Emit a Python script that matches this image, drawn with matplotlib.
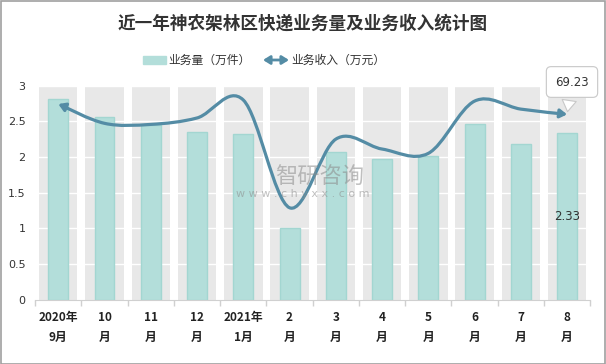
import numpy as np
import matplotlib
matplotlib.use('Agg')
import matplotlib.pyplot as plt
from matplotlib.path import Path
from matplotlib.patches import FancyArrowPatch, Rectangle

plt.rcParams['font.family'] = ['Noto Sans CJK SC', 'DejaVu Sans']

# data
months = ['2020年\n9月', '10\n月', '11\n月', '12\n月', '2021年\n1月', '2\n月',
          '3\n月', '4\n月', '5\n月', '6\n月', '7\n月', '8\n月']
volume = [2.81, 2.56, 2.45, 2.35, 2.32, 1.00, 2.07, 1.97, 2.02, 2.46, 2.18, 2.33]   # 万件
income = [73.1, 65.9, 65.5, 67.9, 74.6, 34.4, 60.0, 56.3, 54.7, 74.2, 71.2, 69.23]  # 万元

bar_col = '#b3deda'
bar_edge = '#a3d6d1'
line_col = '#548ca5'

fig = plt.figure(figsize=(6.06, 3.64), dpi=100)
ax = fig.add_axes([0.058, 0.176, 0.916, 0.589])
ax2 = ax.twinx()

x = np.arange(len(months))
# gray column bands and white grid
ax.bar(x, [3] * len(x), width=0.83, color='#e8e8e8', zorder=0)
for g in np.arange(0.5, 3.01, 0.5):
    ax.axhline(g, color='white', lw=1, zorder=1)
ax.bar(x, volume, width=0.43, color=bar_col, edgecolor=bar_edge, lw=1, zorder=2)
ax.text(x[-1], 1.17, '2.33', ha='center', va='center', fontsize=8.5, color='#333333',
        family=['DejaVu Sans'], zorder=5)

ax.set_xlim(-0.5, 11.5)
ax.set_ylim(0, 3)
ax.set_yticks(np.arange(0, 3.01, 0.5))
ax.set_yticklabels(['0', '0.5', '1', '1.5', '2', '2.5', '3'], fontsize=8, color='#333333',
                   family=['DejaVu Sans'])
ax.tick_params(axis='y', length=0, pad=7)
ax.set_xticks(x)
ax.set_xticklabels(months, fontsize=8.5, fontweight='bold', color='#222222', linespacing=1.7)
ax.tick_params(axis='x', length=0, pad=8)
ax.set_xticks(np.arange(-0.5, 11.6, 1), minor=True)
ax.tick_params(axis='x', which='minor', length=4, color='#d0d0d0', width=1)
for s in ['left', 'right', 'top']:
    ax.spines[s].set_visible(False)
ax.spines['bottom'].set_color('#d0d0d0')

# income line on hidden secondary axis, drawn as a smooth bezier through the points
ax2.set_ylim(0, 80)
ax2.axis('off')
pts = np.column_stack([x, income])
ext = np.vstack([pts[0], pts, pts[-1]])
verts = [tuple(pts[0])]
codes = [Path.MOVETO]
for i in range(len(pts) - 1):
    p0, p1, p2, p3 = ext[i], ext[i + 1], ext[i + 2], ext[i + 3]
    c1 = p1 + (p2 - p0) / 6.0
    c2 = p2 - (p3 - p1) / 6.0
    verts += [tuple(c1), tuple(c2), tuple(p2)]
    codes += [Path.CURVE4] * 3
curve = FancyArrowPatch(path=Path(verts, codes), arrowstyle='<|-|>,head_length=4,head_width=2.5',
                        color=line_col, lw=2.3, transform=ax2.transData, zorder=4)
ax2.add_patch(curve)

ax2.annotate('69.23', xy=(x[-1], income[-1]), xytext=(572, 282), textcoords='figure pixels',
             ha='center', va='center', fontsize=8.5, color='#333333', family=['DejaVu Sans'],
             bbox=dict(boxstyle='round,pad=0.75,rounding_size=0.4', fc='white', ec='#c8c8c8', lw=0.8),
             arrowprops=dict(arrowstyle='wedge,tail_width=1.2', fc='white', ec='#c8c8c8', lw=0.8),
             zorder=6)

# title
fig.text(0.5, 0.934, '近一年神农架林区快递业务量及业务收入统计图', ha='center', va='center',
         fontsize=12.7, fontweight='bold', color='#333333')

# legend
fig.patches.append(Rectangle((143 / 606, 1 - 64 / 364), 23 / 606, 8 / 364,
                             transform=fig.transFigure, fc=bar_col, ec=bar_col))
fig.text(168 / 606, 1 - 60 / 364, '业务量（万件）', ha='left', va='center', fontsize=8.5, color='#333333')
fig.patches.append(FancyArrowPatch((263 / 606, 1 - 60 / 364), (289 / 606, 1 - 60 / 364),
                                   transform=fig.transFigure, arrowstyle='<|-|>,head_length=4,head_width=2.5',
                                   color=line_col, lw=2, shrinkA=0, shrinkB=0))
fig.text(291 / 606, 1 - 60 / 364, '业务收入（万元）', ha='left', va='center', fontsize=8.5, color='#333333')

# watermark
fig.text(320 / 606, 1 - 177 / 364, '智研咨询', ha='center', va='center', fontsize=16,
         color='#8c8c8c', alpha=0.55, zorder=10)
fig.text(303 / 606, 1 - 194 / 364, 'w w w . c h y x x . c o m', ha='center', va='center',
         fontsize=8, color='#8c8c8c', alpha=0.55, family=['DejaVu Sans'], zorder=10)

# outer frame
fig.patches.append(Rectangle((0.001, 0.001), 0.997, 0.997, transform=fig.transFigure,
                             fill=False, ec='#a0a0a0', lw=1.2))

fig.savefig('out.png', dpi=100)
